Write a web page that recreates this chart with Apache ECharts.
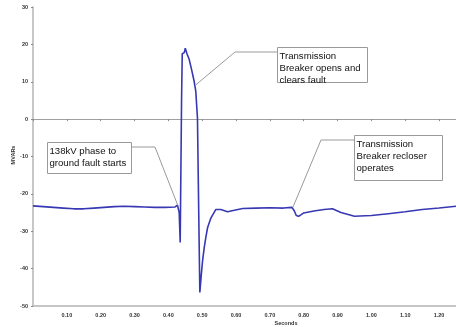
<!DOCTYPE html>
<html>
<head>
<meta charset="utf-8">
<script src="https://cdn.jsdelivr.net/npm/echarts@6/dist/echarts.min.js"></script>
<style>html,body{margin:0;padding:0;background:#fff;}#c{width:456px;height:327px;}</style>
</head>
<body>
<div id="c"></div>
<script>
var seconds = [0, 0.03, 0.06, 0.09, 0.12, 0.15, 0.18, 0.21, 0.24, 0.27, 0.30, 0.33, 0.36, 0.39, 0.42, 0.427, 0.432, 0.435, 0.437, 0.439, 0.441, 0.444, 0.447, 0.450, 0.455, 0.4615, 0.468, 0.476, 0.481, 0.486, 0.489, 0.493, 0.497, 0.501, 0.506, 0.511, 0.516, 0.526, 0.540, 0.555, 0.575, 0.595, 0.62, 0.66, 0.70, 0.74, 0.765, 0.772, 0.778, 0.785, 0.80, 0.83, 0.86, 0.885, 0.91, 0.95, 1.0, 1.05, 1.1, 1.15, 1.2, 1.25];
var mvars = [-23.2, -23.4, -23.6, -23.8, -24.0, -24.0, -23.8, -23.6, -23.4, -23.3, -23.4, -23.5, -23.6, -23.6, -23.5, -23.0, -25, -33, -33, 5, 17.5, 18, 17.8, 19, 17.5, 16, 13.5, 10.2, 7.5, 0.3, -20, -46.4, -42, -38, -34.4, -31.5, -29, -26.4, -24.2, -24.2, -24.8, -24.4, -23.9, -23.8, -23.7, -23.8, -23.6, -24.5, -25.8, -26, -25.1, -24.6, -24.2, -24.0, -25.0, -26.0, -25.8, -25.3, -24.8, -24.2, -23.8, -23.3];
var yTicks = [30, 20, 10, 0, -10, -20, -30, -40, -50];
var xTickLabels = ['0.10','0.20','0.30','0.40','0.50','0.60','0.70','0.80','0.90','1.00','1.10','1.20'];
var notes = [
  {text: '138kV phase to\nground fault starts', at: [0.428, -23.1], box: [47, 142, 84, 31], elbow: [155, 147], side: 'right'},
  {text: 'Transmission\nBreaker opens and\nclears fault', at: [0.479, 9], box: [277, 47, 90, 35], elbow: [235, 52], side: 'left'},
  {text: 'Transmission\nBreaker recloser\noperates', at: [0.768, -23.6], box: [354, 135, 88, 45], elbow: [321, 140], side: 'left'}
];

var data = seconds.map(function (s, i) { return [s, mvars[i]]; });
var chart = echarts.init(document.getElementById('c'), null, {renderer: 'canvas'});
var font = 'Liberation Sans, Arial, sans-serif';
var axisGray = '#b4b4b4';
chart.setOption({
  animation: false,
  grid: {left: 33, right: 0, top: 7, bottom: 21, containLabel: false},
  xAxis: [{
    type: 'value', min: 0, max: 1.25, interval: 0.1,
    axisLine: {onZero: true, lineStyle: {color: '#a0a0a0', width: 1}},
    axisTick: {show: true, length: 2, inside: false, lineStyle: {color: '#888'}},
    axisLabel: {show: false},
    splitLine: {show: false}
  }, {
    type: 'value', min: 0, max: 1.25, interval: 0.1, position: 'bottom',
    axisLine: {onZero: false, show: true, lineStyle: {color: axisGray, width: 1.5}},
    axisTick: {show: false},
    axisLabel: {
      show: true, fontSize: 5.5, fontWeight: 'bold', color: '#333', fontFamily: font, margin: 6,
      showMaxLabel: false,
      formatter: function (v) {
        var k = Math.round(v * 10);
        return (k >= 1 && k <= xTickLabels.length) ? xTickLabels[k - 1] : '';
      }
    },
    splitLine: {show: false}
  }],
  yAxis: {
    type: 'value', min: -50, max: 30, interval: 10,
    axisLine: {show: true, onZero: false, lineStyle: {color: axisGray, width: 1.5}},
    axisTick: {show: true, length: 2, lineStyle: {color: '#888'}},
    axisLabel: {fontSize: 5.5, fontWeight: 'bold', color: '#333', fontFamily: font, margin: 5,
      formatter: function (v) { return yTicks.indexOf(v) >= 0 ? String(v) : ''; }},
    splitLine: {show: false}
  },
  series: [{
    type: 'line', data: data, xAxisIndex: 0, showSymbol: false, smooth: false,
    lineStyle: {color: '#3838b4', width: 1.6}
  }]
});

var g = [];
notes.forEach(function (n) {
  var tip = chart.convertToPixel({xAxisIndex: 0, yAxisIndex: 0}, n.at);
  var b = n.box;
  var sx = n.side === 'right' ? b[0] + b[2] : b[0];
  g.push({type: 'polyline', shape: {points: [[sx, n.elbow[1]], n.elbow, tip]}, style: {stroke: '#9a9a9a', lineWidth: 1, fill: null}, z: 10});
  g.push({type: 'rect', shape: {x: b[0] + 0.5, y: b[1] + 0.5, width: b[2], height: b[3]}, style: {fill: '#fff', stroke: '#9a9a9a', lineWidth: 1}, z: 11});
  g.push({type: 'text', x: b[0] + 2.5, y: b[1] + 3, style: {text: n.text, font: '9.6px ' + font, fill: '#111', lineHeight: 12}, z: 12});
});
g.push({type: 'text', x: 286, y: 323, style: {text: 'Seconds', font: 'bold 5.5px ' + font, fill: '#333', textAlign: 'center', textVerticalAlign: 'middle'}});
g.push({type: 'text', x: 13, y: 155, rotation: Math.PI / 2, style: {text: 'MVARs', font: 'bold 5.5px ' + font, fill: '#333', textAlign: 'center', textVerticalAlign: 'middle'}});
chart.setOption({graphic: g});
</script>
</body>
</html>
